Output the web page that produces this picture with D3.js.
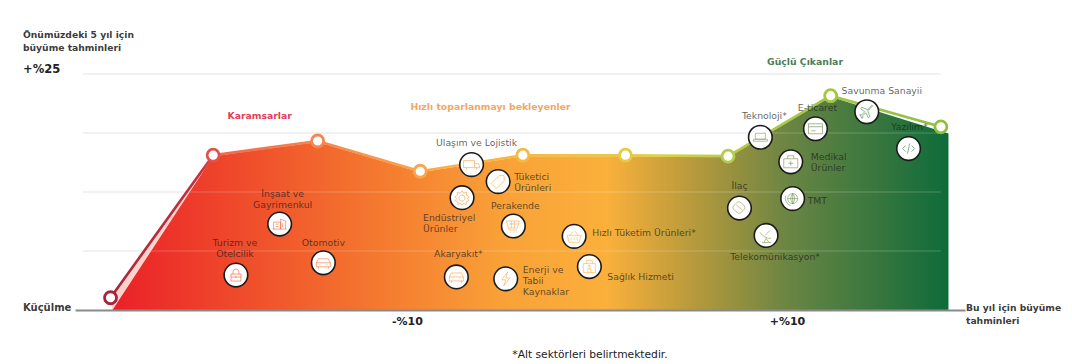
<!DOCTYPE html>
<html lang="tr">
<head>
<meta charset="utf-8">
<title>Büyüme tahminleri</title>
<script src="https://cdn.jsdelivr.net/npm/d3@7"></script>
<style>
  body { margin: 0; background: #fff; }
  svg { display: block; font-family: "DejaVu Sans", sans-serif; }
  .sector { font-size: 9.3px; fill: #1c1c1c; fill-opacity: .72; }
  .head { font-size: 9.3px; font-weight: bold; text-anchor: middle; }
  .note { font-size: 9.2px; font-weight: bold; fill: #222; fill-opacity: .9; }
</style>
</head>
<body>
<div id="chart"></div>
<script>
// curve of the sector groups: this year (x) vs next 5 years (y), in %
const lineX = [-25.6, -20.2, -14.7, -9.3, -3.9, 1.5, 6.9, 12.3, 18.1];
const lineY = [1.3, 16.4, 17.9, 14.7, 16.4, 16.4, 16.3, 22.7, 19.4];
const areaX = [-25.5, -20.2, -14.7, -9.3, -3.9, 1.5, 6.9, 12.3, 18.5, 18.5];
const areaY = [0, 16.3, 17.8, 14.6, 16.3, 16.3, 16.2, 22.6, 18.7, 0];

// sectors
const sectorNames = [
  ["İnşaat ve", "Gayrimenkul"], ["Turizm ve", "Otelcilik"], ["Otomotiv"],
  ["Ulaşım ve Lojistik"], ["Tüketici", "Ürünleri"], ["Endüstriyel", "Ürünler"],
  ["Perakende"], ["Hızlı Tüketim Ürünleri*"], ["Sağlık Hizmeti"],
  ["Akaryakıt*"], ["Enerji ve", "Tabii", "Kaynaklar"], ["Teknoloji*"],
  ["E-ticaret"], ["Savunma Sanayii"], ["Yazılım*"], ["Medikal", "Ürünler"],
  ["TMT"], ["İlaç"], ["Telekomünikasyon*"]
];
const sectorX = [-16.7, -19.0, -14.4, -6.6, -5.2, -7.1, -4.4, -1.2, -0.4, -7.4, -4.8, 8.6, 11.5, 14.2, 16.4, 10.2, 10.3, 7.5, 8.9];
const sectorY = [9.1, 3.7, 5.0, 15.4, 13.6, 11.9, 8.9, 7.8, 4.6, 3.5, 3.3, 18.3, 19.2, 21.0, 17.1, 15.7, 11.8, 10.8, 7.9];
const sectorIcons = ["building", "bag", "car", "truck", "tag", "gear", "cart", "basket", "hospital", "car", "bolt", "laptop", "card", "plane", "code", "medkit", "globe", "pill", "dish"];

const xTicks = [-10, 10];
const xTickLabels = ["-%10", "+%10"];
const yTicks = [6.25, 12.5, 18.75, 25];

const groupNames = ["Karamsarlar", "Hızlı toparlanmayı bekleyenler", "Güçlü Çıkanlar"];
const groupX = [-17.75, -5.6, 10.95];
const groupY = [20.2, 21.2, 26.0];
const groupColors = ["#e2405a", "#f2a863", "#4d7d58"];

// label placement relative to the icon
const labelDx = [3, -1, 0, 5, 16, -39, 2, 18, 18, 2, 17, 4, 2, 15, 1, 20, 15, 0, 9];
const labelDy = [-27, -29, -17, -19, -2, 23, -17, 0, 13, -20, -6, -18, -18, -18, -19, -2, 5, -19, 25];
const labelAnchor = ["middle", "middle", "middle", "middle", "start", "start", "middle", "start", "start", "middle", "start", "middle", "middle", "middle", "middle", "start", "start", "middle", "middle"];

// small line icons, drawn around 0,0
const iconPaths = {
  building: "M-6 5V-2H1V5M1 5V-5L6 -3V5M-7 5H7M-4 0H-1M-4 2.5H-1M3 -1V3",
  bag: "M-5 -1H5V6H-5ZM-3 -1V-3Q-3 -6 0 -6T3 -3V-1M-5 2H5M0 1V3",
  car: "M-7 4V0L-5 -4H5L7 0V4ZM-7 0H7M-5 4V6M5 4V6M-4 2H-3M3 2H4",
  truck: "M-8 -4H3V3H-8ZM3 -1H7L8 1V3H3M-5 3V5M5 3V5",
  tag: "M-7 2L1 -6H6V-1L-2 7ZM3.5 -3.5L3.6 -3.4",
  gear: "M0 -7L1.5 -4.5L4.5 -5.5L4.5 -2.5L7 -1L5.5 1L7 3L4.5 4L4 7L1.5 5.5L0 7.5L-1.5 5.5L-4 7L-4.5 4L-7 3L-5.5 1L-7 -1L-4.5 -2.5L-4.5 -5.5L-1.5 -4.5ZM0 -2.5A3 3 0 1 0 0.01 -2.5",
  cart: "M-7 -5H6L4 2H-5ZM-4 -2H5M-2 -5V2M1 -5V2M-5 2L-4 4H4M-3 6H-2M3 6H4",
  basket: "M-7 -1H7L5 6H-5ZM-4 -1L-1 -5M4 -1L1 -5M-3 1V4M0 1V4M3 1V4",
  hospital: "M-6 6V-3H6V6ZM-3 -3V-6H3V-3M-1.5 6V2H1.5V6M0 -2V1M-1.5 -0.5H1.5",
  bolt: "M2 -7L-4 1H0L-2 7L4 -1H0Z",
  laptop: "M-5 -4H5V2H-5ZM-7 2H7V4H-7Z",
  card: "M-7 -5H7V5H-7ZM-7 -2H7M-4 2H0",
  plane: "M6 -6L1 -1L3 5L1.5 6L-1 1L-4 4V6L-5 6.5L-6 4L-7 3L-5 3L-2 0L-6 -3L-5 -4.5L1 -2L5 -6.5Z",
  code: "M-3 -3L-6 0L-3 3M3 -3L6 0L3 3M1 -5L-1 5",
  medkit: "M-7 -3H7V6H-7ZM-3 -3V-6H3V-3M0 -1V4M-2.5 1.5H2.5",
  globe: "M0 -5A5 5 0 1 0 0.01 -5M0 -5V5M-5 0H5M0 -5Q-4 0 0 5M0 -5Q4 0 0 5M-7 -3A8 8 0 0 0 -2 7",
  pill: "M-6 -2L-2 -6Q0 -7 2 -5L5 -2Q6 0 5 1L1 5Q-1 6 -3 4L-6 1Q-7 -1 -6 -2ZM-3 -3L3 2",
  dish: "M-6 -3Q-2 3 5 3M-1 0L4 -5M0 3L-2 7M0 3L3 7M-4 7H5"
};

const width = 1072, height = 364;

const x = d3.scaleLinear().domain([-27.47, 19.37]).range([75, 965]);
const y = d3.scaleLinear().domain([0, 25]).range([310, 74]);

const svg = d3.select("#chart").append("svg")
  .attr("width", width)
  .attr("height", height);

const defs = svg.append("defs");

// colour runs left to right along x
const fillStops = [[-25.5, "#ea2028"], [-13, "#f3702e"], [-5, "#f9a137"], [0.5, "#fbb03b"], [5, "#b89a3c"], [10, "#6b8543"], [18.5, "#0e6b3a"]];
const lineStops = [[-25.6, "#a8243c"], [-20.8, "#c9303f"], [-19.8, "#ee6a50"], [-14, "#f68a52"], [-8, "#fbae45"], [-2, "#f0c040"], [3, "#dfd045"], [7, "#b5cc48"], [12, "#a3c744"], [18.5, "#8fbf3c"]];
const fillColor = d3.scaleLinear().domain(fillStops.map(d => d[0])).range(fillStops.map(d => d[1]));

function addGradient(id, stops) {
  defs.append("linearGradient")
    .attr("id", id)
    .attr("gradientUnits", "userSpaceOnUse")
    .attr("x1", x(stops[0][0])).attr("x2", x(stops[stops.length - 1][0]))
    .attr("y1", 0).attr("y2", 0)
    .selectAll("stop")
    .data(stops)
    .join("stop")
    .attr("offset", d => (d[0] - stops[0][0]) / (stops[stops.length - 1][0] - stops[0][0]))
    .attr("stop-color", d => d[1]);
}
addGradient("areaFill", fillStops);
addGradient("lineFill", lineStops);

// grid under the area
const gridLeft = x(-27.47) + 8, gridRight = x(18.1);
svg.append("g").selectAll("line")
  .data(yTicks)
  .join("line")
  .attr("x1", gridLeft).attr("x2", gridRight)
  .attr("y1", d => y(d)).attr("y2", d => y(d))
  .attr("stroke", "#ececec")
  .attr("stroke-width", 1.5);

// pale strip between the first line segment and the area
svg.append("path")
  .attr("d", d3.line()([[x(lineX[0]), y(lineY[0])], [x(lineX[1]), y(lineY[1])], [x(areaX[0]), y(areaY[0])]]))
  .attr("fill", "#fbd3c9");

// area
const area = d3.area().x((d, i) => x(areaX[i])).y0(y(0)).y1(d => y(d));
svg.append("path")
  .datum(areaY)
  .attr("d", area)
  .attr("fill", "url(#areaFill)");

// grid shows faintly through the area
svg.append("g").selectAll("line")
  .data(yTicks.slice(0, 3))
  .join("line")
  .attr("x1", (d, i) => [x(-23.5), x(-21.4), x(8.95)][i]).attr("x2", gridRight)
  .attr("y1", d => y(d)).attr("y2", d => y(d))
  .attr("stroke", "#fff")
  .attr("stroke-opacity", .22);

// x axis
const xAxis = svg.append("g")
  .attr("transform", "translate(0," + y(0) + ")")
  .call(d3.axisBottom(x).tickValues(xTicks).tickSize(0).tickPadding(7).tickFormat((d, i) => xTickLabels[i]));
xAxis.select(".domain").attr("stroke", "#8a8a8a").attr("stroke-width", 1.8);
xAxis.selectAll("text")
  .style("font-family", "'DejaVu Sans', sans-serif")
  .style("font-size", "11px")
  .style("font-weight", "bold")
  .attr("fill", "#222");

// curve with markers
const line = d3.line().x((d, i) => x(lineX[i])).y(d => y(d));
svg.append("path")
  .datum(lineY)
  .attr("d", line)
  .attr("fill", "none")
  .attr("stroke", "url(#lineFill)")
  .attr("stroke-width", 2.6);

const markerColor = d3.scaleLinear().domain(lineStops.map(d => d[0])).range(lineStops.map(d => d[1]));
svg.append("g").selectAll("circle")
  .data(lineY)
  .join("circle")
  .attr("cx", (d, i) => x(lineX[i]))
  .attr("cy", d => y(d))
  .attr("r", 6)
  .attr("fill", "#fff")
  .attr("stroke", (d, i) => markerColor(lineX[i]))
  .attr("stroke-width", 2.8);

// sector icons and labels
const sectors = svg.append("g").selectAll("g")
  .data(sectorNames)
  .join("g")
  .attr("transform", (d, i) => "translate(" + x(sectorX[i]) + "," + y(sectorY[i]) + ")");

sectors.append("circle")
  .attr("r", 11.8)
  .attr("fill", "#fff")
  .attr("stroke", "#1b1b1b")
  .attr("stroke-width", 1.6);

sectors.append("path")
  .attr("d", (d, i) => iconPaths[sectorIcons[i]])
  .attr("fill", "none")
  .attr("stroke", (d, i) => d3.color(fillColor(sectorX[i])).copy({opacity: .55}))
  .attr("stroke-width", 1);

sectors.append("text")
  .attr("class", "sector")
  .attr("text-anchor", (d, i) => labelAnchor[i])
  .attr("transform", (d, i) => "translate(" + labelDx[i] + "," + labelDy[i] + ")")
  .selectAll("tspan")
  .data(d => d)
  .join("tspan")
  .attr("x", 0)
  .attr("dy", (d, i) => i ? 11 : 0)
  .text(d => d);

// group headings
svg.append("g").selectAll("text")
  .data(groupNames)
  .join("text")
  .attr("class", "head")
  .attr("x", (d, i) => x(groupX[i]))
  .attr("y", (d, i) => y(groupY[i]))
  .attr("fill", (d, i) => groupColors[i])
  .text(d => d);

// axis captions
const notes = [
  ["Önümüzdeki 5 yıl için", 23, 38], ["büyüme tahminleri", 23, 51],
  ["Küçülme", 23, 311], ["Bu yıl için büyüme", 966, 311], ["tahminleri", 966, 324]
];
svg.append("g").selectAll("text")
  .data(notes)
  .join("text")
  .attr("class", "note")
  .attr("x", d => d[1])
  .attr("y", d => d[2])
  .style("font-size", d => d[0] === "Küçülme" ? "10px" : null)
  .text(d => d[0]);

svg.append("text")
  .attr("x", 23).attr("y", y(25) - 1)
  .attr("font-size", 11.5).attr("font-weight", "bold").attr("fill", "#222")
  .text("+%25");

svg.append("text")
  .attr("x", 590).attr("y", 358)
  .attr("text-anchor", "middle")
  .attr("font-size", 10.7).attr("fill", "#222")
  .text("*Alt sektörleri belirtmektedir.");
</script>
</body>
</html>
